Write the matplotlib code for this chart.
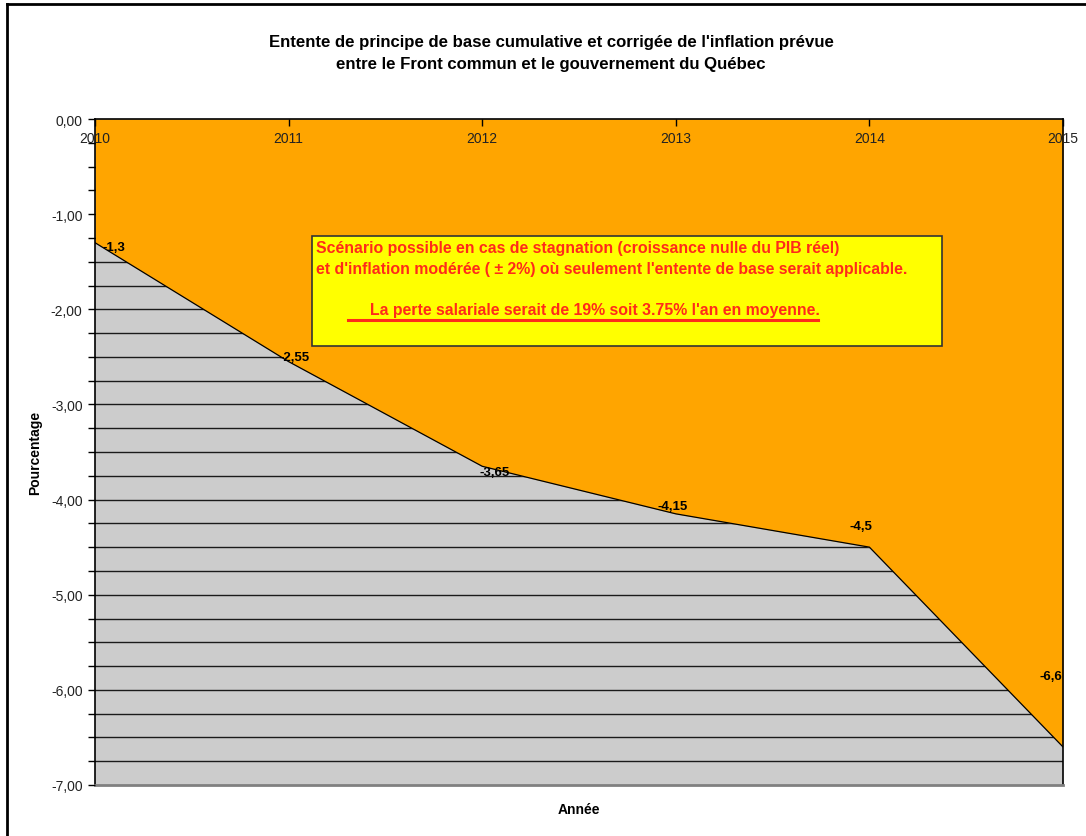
import matplotlib.pyplot as plt
from matplotlib.patches import Rectangle
from matplotlib.lines import Line2D
import numpy as np

# donnees
annees = [2010, 2011, 2012, 2013, 2014, 2015]
pertes = [-1.3, -2.55, -3.65, -4.15, -4.5, -6.6]
etiquettes = ["-1,3", "-2,55", "-3,65", "-4,15", "-4,5", "-6,6"]
graduationsY = [0, -1, -2, -3, -4, -5, -6, -7]
texteGradY = ["0,00", "-1,00", "-2,00", "-3,00", "-4,00", "-5,00", "-6,00", "-7,00"]

# decalage des etiquettes (pixels), comme dans Excel
decalages = [(19, -4), (6, 5), (12, -6), (-3, 8), (-8, 21), (-12, 71)]

orange = "#FFA500"
gris = "#CCCCCC"
rouge = "#FF2A1A"
police = "Liberation Sans"
plt.rcParams["font.family"] = [police, "DejaVu Sans"]

fig = plt.figure(figsize=(10.86, 8.37), dpi=100)
W, H = 1086, 837
ax = fig.add_axes([95 / W, 1 - 786 / H, (1063 - 95) / W, (786 - 120) / H])
ax.set_facecolor(gris)

# lignes de quadrillage tous les 0,25
for y in np.arange(-0.25, -7.0, -0.25):
    ax.axhline(y, color="#1a1a1a", lw=1.0, zorder=1)

ax.fill_between(annees, pertes, 0, color=orange, zorder=2, lw=0)
ax.plot(annees, pertes, color="black", lw=0.9, zorder=3)

for i in range(len(annees)):
    dx, dy = decalages[i]
    ax.annotate(etiquettes[i], (annees[i], pertes[i]), xytext=(dx * 0.72, dy * 0.72),
                textcoords="offset points", ha="center", va="center",
                fontsize=9.5, fontweight="bold", zorder=5)

ax.set_xlim(2010, 2015)
ax.set_ylim(-7, 0)
ax.set_yticks(graduationsY)
ax.set_yticklabels(texteGradY)
ax.set_yticks(np.arange(0, -7.01, -0.25), minor=True)
ax.tick_params(axis="y", which="both", direction="out", length=5, width=1, labelsize=10, pad=4, colors="black")
ax.tick_params(axis="y", which="major", labelcolor="#222222")

ax.set_xticks(annees)
ax.set_xticklabels([str(a) for a in annees])
ax.xaxis.tick_top()
ax.tick_params(axis="x", direction="in", length=5, width=1, labelsize=10, pad=-19, labelcolor="#222222")
ax.xaxis.set_zorder(7)
ax.yaxis.set_zorder(7)

for cote in ["top", "right", "left"]:
    ax.spines[cote].set_color("black")
    ax.spines[cote].set_linewidth(1.2)
ax.spines["bottom"].set_color("#808080")
ax.spines["bottom"].set_linewidth(2)

ax.set_ylabel("Pourcentage", fontsize=10, fontweight="bold")
ax.yaxis.set_label_coords(-53 / 968, 0.5)
ax.set_xlabel("Année", fontsize=10, fontweight="bold")
ax.xaxis.set_label_position("bottom")
ax.xaxis.set_label_coords(0.5, -17 / 666)

fig.text(551 / W, 1 - 43 / H, "Entente de principe de base cumulative et corrigée de l'inflation prévue",
         ha="center", va="center", fontsize=12.1, fontweight="bold")
fig.text(551 / W, 1 - 64 / H, "entre le Front commun et le gouvernement du Québec",
         ha="center", va="center", fontsize=12.1, fontweight="bold")

# encadre jaune
fig.add_artist(Rectangle((312 / W, 1 - 347 / H), (942 - 312) / W, (347 - 237) / H,
                         facecolor="#FFFF00", edgecolor="#333333", lw=1.2, zorder=10))
fig.text(316 / W, 1 - 248 / H, "Scénario possible en cas de stagnation (croissance nulle du PIB réel)",
         ha="left", va="center", fontsize=11.4, fontweight="bold", color=rouge, zorder=11)
fig.text(316 / W, 1 - 270 / H, "et d'inflation modérée ( \u00b1 2%) où seulement l'entente de base serait applicable.",
         ha="left", va="center", fontsize=11.4, fontweight="bold", color=rouge, zorder=11)
fig.text(370 / W, 1 - 311 / H, "La perte salariale serait de 19% soit 3.75% l'an en moyenne.",
         ha="left", va="center", fontsize=11.4, fontweight="bold", color=rouge, zorder=11)
fig.add_artist(Line2D([348 / W, 818 / W], [1 - 321 / H, 1 - 321 / H], color=rouge, lw=2.2, zorder=11))

# cadre exterieur
fig.add_artist(Line2D([7 / W, 7 / W], [0, 1 - 5 / H], color="black", lw=2))
fig.add_artist(Line2D([7 / W, 1], [1 - 5 / H, 1 - 5 / H], color="black", lw=2))

fig.savefig("out.png", dpi=100)
